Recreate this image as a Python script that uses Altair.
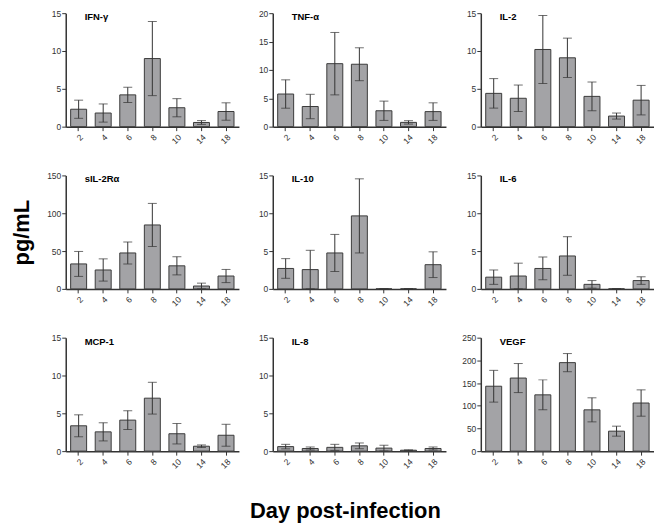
import altair as alt
import pandas as pd

days = ["2", "4", "6", "8", "10", "14", "18"]
names = ["IFN-γ", "TNF-α", "IL-2", "sIL-2Rα", "IL-10", "IL-6", "MCP-1", "IL-8", "VEGF"]
ymaxes = [15, 20, 15, 150, 15, 15, 15, 15, 250]
ysteps = [5, 5, 5, 50, 5, 5, 5, 5, 50]

ifn_mean = [2.3, 1.8, 4.2, 9.0, 2.5, 0.55, 2.0]
ifn_err = [1.2, 1.2, 1.0, 4.9, 1.2, 0.25, 1.15]
tnf_mean = [5.75, 3.55, 11.1, 11.0, 2.8, 0.75, 2.65]
tnf_err = [2.5, 2.15, 5.5, 2.9, 1.7, 0.3, 1.55]
il2_mean = [4.4, 3.75, 10.2, 9.1, 4.0, 1.4, 3.5]
il2_err = [1.95, 1.75, 4.5, 2.6, 1.9, 0.4, 1.95]
sil2r_mean = [33, 25, 47.5, 84.5, 30.5, 3.8, 17]
sil2r_err = [16.5, 14.7, 14.5, 28.5, 12, 3.8, 8.7]
il10_mean = [2.7, 2.55, 4.75, 9.65, 0, 0, 3.2]
il10_err = [1.3, 2.55, 2.45, 4.9, 0, 0, 1.7]
il6_mean = [1.55, 1.7, 2.7, 4.35, 0.6, 0, 1.1]
il6_err = [0.95, 1.7, 1.5, 2.55, 0.5, 0, 0.5]
mcp1_mean = [3.35, 2.55, 4.1, 7.0, 2.3, 0.65, 2.1]
mcp1_err = [1.45, 1.2, 1.25, 2.1, 1.35, 0.17, 1.45]
il8_mean = [0.6, 0.35, 0.5, 0.7, 0.4, 0.12, 0.35]
il8_err = [0.3, 0.2, 0.4, 0.38, 0.38, 0.05, 0.2]
vegf_mean = [143, 161, 124, 195, 91, 44, 106]
vegf_err = [35, 32, 33, 20, 26.5, 11, 29]

means = [ifn_mean, tnf_mean, il2_mean, sil2r_mean, il10_mean, il6_mean, mcp1_mean, il8_mean, vegf_mean]
errs = [ifn_err, tnf_err, il2_err, sil2r_err, il10_err, il6_err, mcp1_err, il8_err, vegf_err]

FONT = "Liberation Sans"
DARK = "#333333"
W, H = 174, 114


def panel(i, ytitle=None):
    df = pd.DataFrame({"day": days, "mean": means[i], "err": errs[i]})
    df["lo"] = (df["mean"] - df["err"]).clip(lower=0)
    df["hi"] = df["mean"] + df["err"]
    base = alt.Chart(df)
    xaxis = alt.Axis(title=None, labelAngle=315, labelFontSize=8.5, labelFont=FONT,
                     labelColor=DARK, domainColor=DARK, domainWidth=1.5, tickColor=DARK,
                     tickSize=4, labelPadding=2, grid=False)
    xscale = alt.Scale(paddingInner=0.35, paddingOuter=0.2)
    yaxis_kwargs = dict(values=list(range(0, ymaxes[i] + 1, ysteps[i])), labelFontSize=8.5,
                        labelFont=FONT, labelColor=DARK, domainColor=DARK, domainWidth=1.5,
                        tickColor=DARK, tickSize=4, labelPadding=1, grid=False,
                        labelOverlap=False, labelFlush=False)
    if ytitle:
        yaxis_kwargs.update(title=ytitle, titleFontSize=22, titleFont=FONT, titleFontWeight="bold",
                            titleColor="black", titlePadding=13)
    else:
        yaxis_kwargs.update(title=None)
    yaxis = alt.Axis(**yaxis_kwargs)
    yscale = alt.Scale(domain=[0, ymaxes[i]], nice=False)

    def X():
        return alt.X("day:N", sort=days, scale=xscale, axis=xaxis)

    def Y(f):
        return alt.Y(f, scale=yscale, axis=yaxis)

    bars = base.mark_bar(fill="#a3a3a6", stroke="#3a3a3a", strokeWidth=1).encode(x=X(), y=Y("mean:Q"))
    rule = base.mark_rule(color=DARK, strokeWidth=1).encode(x=X(), y=Y("lo:Q"), y2="hi:Q")
    cap_hi = base.mark_tick(color=DARK, size=9, thickness=1).encode(x=X(), y=Y("hi:Q"))
    cap_lo = base.mark_tick(color=DARK, size=9, thickness=1).encode(x=X(), y=Y("lo:Q"))
    label = alt.Chart(pd.DataFrame({"t": [names[i]]})).mark_text(
        align="left", baseline="middle", font=FONT, fontSize=9.5, fontWeight="bold", color="black"
    ).encode(text="t:N", x=alt.value(19), y=alt.value(4))
    return alt.layer(bars, rule, cap_hi, cap_lo, label).properties(width=W, height=H)


p = [panel(i, "pg/mL" if i == 3 else None) for i in range(9)]
col1 = alt.vconcat(p[0], p[3], p[6], spacing=26)
col2 = alt.vconcat(p[1], p[4], p[7], spacing=26)
col3 = alt.vconcat(p[2], p[5], p[8], spacing=26)

chart = alt.hconcat(alt.hconcat(col1, col2, spacing=19), col3, spacing=15).properties(
    title=alt.Title("Day post-infection", orient="bottom", anchor="middle", fontSize=22,
                    fontWeight="bold", font=FONT, color="black", offset=31, dx=13),
    padding={"left": 2, "top": 0, "right": 0, "bottom": 0},
    background="white",
).configure_view(stroke=None)

chart.save("out.html", embed_options={"renderer": "svg", "actions": False})
